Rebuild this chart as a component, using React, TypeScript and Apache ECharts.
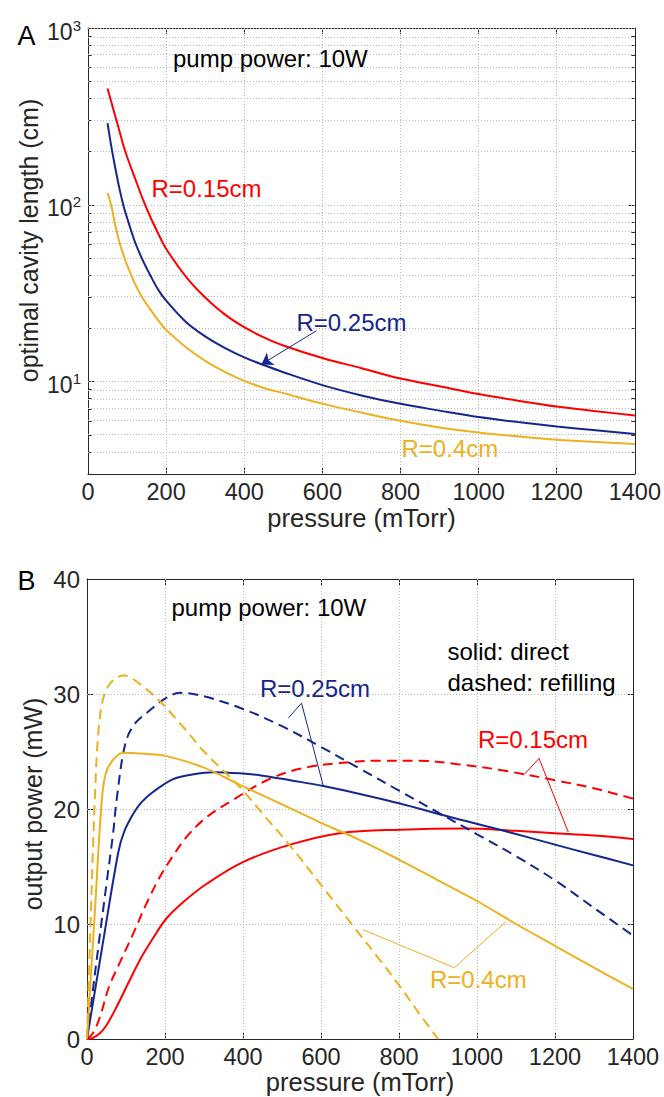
import React, { useEffect, useRef } from 'react';
import * as echarts from 'echarts';

const FONT = "'Liberation Sans', Arial, Helvetica, sans-serif";
const AX = '#262626';
const GRID_C = '#b8b8b8';
const RED = '#FF0000';
const BLUE = '#15268C';
const YELLOW = '#EDB120';

// ---------- Panel A: optimal cavity length (cm) vs pressure (mTorr), log y ----------
const P_A = [50, 60, 70, 80, 90, 100, 120, 140, 160, 180, 200, 250, 300, 350, 400, 450, 500, 600, 700, 800, 900, 1000, 1100, 1200, 1300, 1400];
const RED_A = [455, 379, 316, 264, 219, 187, 142, 108, 85, 68.6, 56.4, 39.4, 29.9, 24.0, 20.3, 17.8, 16.0, 13.6, 11.9, 10.4, 9.4, 8.5, 7.8, 7.22, 6.8, 6.43];
const BLUE_A = [290, 212, 161, 125, 100.5, 84.4, 61.8, 48.6, 39.7, 33.0, 28.7, 21.8, 18.0, 15.5, 13.7, 12.4, 11.3, 9.55, 8.35, 7.48, 6.85, 6.3, 5.9, 5.57, 5.3, 5.05];
const YELLOW_A = [117, 98, 76, 62, 52.6, 45.5, 35.8, 29.6, 25.5, 22.2, 19.6, 15.7, 13.1, 11.35, 10.1, 9.2, 8.6, 7.5, 6.68, 6.0, 5.5, 5.15, 4.9, 4.69, 4.55, 4.43];
const A_MAJOR = [10, 100, 1000];
const A_MINOR = [4, 5, 6, 7, 8, 9, 20, 30, 40, 50, 60, 70, 80, 90, 200, 300, 400, 500, 600, 700, 800, 900];
const A_YMIN = 3;
const A_YMAX = 1000;
const ARROW_P = [585, 444];
const ARROW_V = [19.4, 12.5];

// ---------- Panel B: output power (mW) vs pressure (mTorr) ----------
const RS_P = [0, 15, 33, 50, 76, 105, 136, 170, 204, 250, 307, 401, 521, 649, 803, 973, 1100, 1200, 1300, 1400];
const RS_V = [0, 0.1, 0.5, 1.2, 2.8, 4.8, 6.9, 8.8, 10.5, 12.0, 13.5, 15.4, 16.9, 17.9, 18.2, 18.3, 18.1, 17.9, 17.7, 17.4];
const RD_P = [0, 15, 33, 56, 85, 119, 150, 187, 220, 256, 307, 375, 461, 546, 649, 750, 850, 950, 1059, 1200, 1300, 1400];
const RD_V = [0, 0.5, 1.9, 4.5, 6.7, 9.2, 11.6, 14.1, 15.9, 17.6, 19.3, 20.8, 22.5, 23.5, 24.0, 24.2, 24.2, 23.9, 23.4, 22.5, 21.8, 20.9];
const BS_P = [0, 40, 80, 95, 119, 140, 170, 221, 270, 324, 392, 450, 521, 606, 700, 800, 931, 1059, 1200, 1300, 1400];
const BS_V = [0, 8.2, 16.2, 18.0, 19.6, 20.6, 21.5, 22.6, 23.0, 23.2, 23.1, 22.9, 22.5, 22.0, 21.3, 20.5, 19.3, 18.2, 16.9, 16.0, 15.1];
const BD_P = [0, 16, 29, 50, 67, 76, 97, 120, 162, 200, 238, 300, 400, 500, 600, 700, 800, 900, 1000, 1100, 1200, 1300, 1400];
const BD_V = [0, 4.5, 8, 13.5, 17.9, 20.8, 25.5, 27.3, 28.6, 29.6, 30.1, 29.8, 28.7, 27.2, 25.4, 23.5, 21.6, 19.7, 17.8, 15.9, 13.8, 11.4, 9.0];
const YS_P = [0, 20, 38, 49, 70, 93, 150, 204, 300, 392, 500, 600, 700, 800, 900, 1000, 1100, 1200, 1300, 1400];
const YS_V = [0, 11, 20.8, 23.2, 24.4, 24.9, 24.8, 24.6, 23.6, 22.1, 20.4, 18.8, 17.3, 15.6, 13.8, 12.0, 10.0, 8.1, 6.2, 4.35];
const YD_P = [0, 10, 20, 30, 45, 70, 97, 130, 183, 250, 300, 392, 450, 521, 600, 683, 750, 803, 850, 900];
const YD_V = [0, 11, 20.8, 27, 30, 31.3, 31.6, 31, 29.5, 27, 25, 21.9, 19.6, 16.8, 13.4, 9.8, 6.9, 4.55, 2.3, 0];
// annotation leader lines (data coordinates)
const L25_P = [516, 550, 606];
const L25_V = [27.9, 29.2, 22.0];
const L15_P = [1121, 1159, 1234];
const L15_V = [23.0, 24.4, 18.0];
const L04_P = [708, 942, 1074];
const L04_V = [9.5, 6.2, 10.2];

const X_TICKS = [200, 400, 600, 800, 1000, 1200];

const zip = (xs: number[], ys: number[]) => xs.map((x, i) => [x, ys[i]]);
const zipLog = (xs: number[], ys: number[]) => xs.map((x, i) => [x, Math.log10(ys[i])]);

function xAxisDef(gi: number, pos: 'top' | 'bottom', labels: boolean) {
  return {
    type: 'value', gridIndex: gi, position: pos, min: 0, max: 1400, interval: 200,
    axisLine: { show: true, onZero: false, lineStyle: { color: AX, width: 1 } },
    axisTick: { show: true, inside: true, length: 6, lineStyle: { color: AX, width: 1 } },
    axisLabel: {
      show: labels, fontSize: 23.5, lineHeight: 18, fontFamily: FONT, color: AX, margin: 9,
      formatter: (v: number) => String(v),
    },
    splitLine: { show: false },
  };
}

function logAxis(pos: 'left' | 'right', values: number[], len: number, line: boolean, labels: boolean) {
  const lv = values.map((v) => Math.log10(v));
  return {
    type: 'value', gridIndex: 0, position: pos, min: Math.log10(A_YMIN), max: Math.log10(A_YMAX),
    axisLine: { show: line, onZero: false, lineStyle: { color: AX, width: 1 } },
    axisTick: { show: true, inside: true, length: len, customValues: lv, lineStyle: { color: AX, width: 1 } },
    axisLabel: labels
      ? {
          show: true, customValues: lv, margin: 7, padding: [7, 0, 0, 0],
          formatter: (v: number) => `{b|10}{s|${Math.round(v)}}`,
          rich: {
            b: { fontSize: 23, fontFamily: FONT, color: AX, lineHeight: 28 },
            s: { fontSize: 15, fontFamily: FONT, color: AX, lineHeight: 15, verticalAlign: 'top' },
          },
        }
      : { show: false },
    splitLine: { show: false },
  };
}

function linAxis(pos: 'left' | 'right', labels: boolean) {
  return {
    type: 'value', gridIndex: 1, position: pos, min: 0, max: 40, interval: 10,
    axisLine: { show: true, onZero: false, lineStyle: { color: AX, width: 1 } },
    axisTick: { show: true, inside: true, length: 6, lineStyle: { color: AX, width: 1 } },
    axisLabel: { show: labels, fontSize: 24, fontFamily: FONT, color: AX, margin: 7 },
    splitLine: { show: false },
  };
}

const dotted = { type: [1, 2], color: GRID_C, width: 1 };

function curve(name: string, data: number[][], color: string, xi: number, yi: number, dashed = false, extra: any = {}) {
  return {
    name, type: 'line', xAxisIndex: xi, yAxisIndex: yi, data,
    symbol: 'none', smooth: 0.35, silent: true, z: 3,
    lineStyle: { color, width: 2, type: dashed ? [10, 6] : 'solid' },
    ...extra,
  };
}

function leader(name: string, xs: number[], ys: number[], color: string) {
  return {
    name, type: 'line', xAxisIndex: 2, yAxisIndex: 4, data: zip(xs, ys),
    symbol: 'none', smooth: false, silent: true, z: 4,
    lineStyle: { color, width: 1, type: 'solid' },
  };
}

function txt(text: string, x: number, y: number, color: string, size = 24, align = 'left', rotation = 0) {
  return {
    type: 'text', x, y, rotation, silent: true, z: 10,
    style: {
      text, fill: color, fontSize: size, fontFamily: FONT, lineHeight: size * 0.8,
      align, textAlign: align, verticalAlign: 'middle', textVerticalAlign: 'middle',
    },
  };
}

export default function App() {
  const ref = useRef<HTMLDivElement>(null);
  useEffect(() => {
    const chart = echarts.init(ref.current!, null, { renderer: 'svg' });
    const gridLinesA = [
      ...[...A_MAJOR, ...A_MINOR].map((v) => ({ yAxis: Math.log10(v) })),
      ...X_TICKS.map((x) => ({ xAxis: x })),
    ];
    const gridLinesB = [
      ...[10, 20, 30].map((v) => ({ yAxis: v })),
      ...X_TICKS.map((x) => ({ xAxis: x })),
    ];
    const option: any = {
      animation: false,
      backgroundColor: '#ffffff',
      grid: [
        { left: 88, top: 28, width: 547, height: 446 },
        { left: 87, top: 579, width: 546, height: 460 },
      ],
      xAxis: [xAxisDef(0, 'bottom', true), xAxisDef(0, 'top', false), xAxisDef(1, 'bottom', true), xAxisDef(1, 'top', false)],
      yAxis: [
        logAxis('left', A_MAJOR, 6, true, true),
        logAxis('left', A_MINOR, 3.5, false, false),
        logAxis('right', A_MAJOR, 6, true, false),
        logAxis('right', A_MINOR, 3.5, false, false),
        linAxis('left', true),
        linAxis('right', false),
      ],
      series: [
        {
          name: 'gridA', type: 'line', xAxisIndex: 0, yAxisIndex: 0, data: [], silent: true, z: 1,
          markLine: { silent: true, z: 1, symbol: ['none', 'none'], label: { show: false }, lineStyle: dotted, emphasis: { disabled: true }, data: gridLinesA },
        },
        {
          name: 'gridB', type: 'line', xAxisIndex: 2, yAxisIndex: 4, data: [], silent: true, z: 1,
          markLine: { silent: true, z: 1, symbol: ['none', 'none'], label: { show: false }, lineStyle: dotted, emphasis: { disabled: true }, data: gridLinesB },
        },
        curve('R=0.15cm', zipLog(P_A, RED_A), RED, 0, 0),
        curve('R=0.25cm', zipLog(P_A, BLUE_A), BLUE, 0, 0, false, {
          markLine: {
            silent: true, symbol: ['none', 'arrow'], symbolSize: 11, label: { show: false },
            lineStyle: { color: BLUE, width: 1, type: 'solid' }, emphasis: { disabled: true },
            data: [[
              { coord: [ARROW_P[0], Math.log10(ARROW_V[0])] },
              { coord: [ARROW_P[1], Math.log10(ARROW_V[1])] },
            ]],
          },
        }),
        curve('R=0.4cm', zipLog(P_A, YELLOW_A), YELLOW, 0, 0),
        curve('direct R=0.15', zip(RS_P, RS_V), RED, 2, 4),
        curve('refilling R=0.15', zip(RD_P, RD_V), RED, 2, 4, true),
        curve('direct R=0.25', zip(BS_P, BS_V), BLUE, 2, 4),
        curve('refilling R=0.25', zip(BD_P, BD_V), BLUE, 2, 4, true),
        curve('direct R=0.4', zip(YS_P, YS_V), YELLOW, 2, 4),
        curve('refilling R=0.4', zip(YD_P, YD_V), YELLOW, 2, 4, true),
        leader('lead0.25', L25_P, L25_V, BLUE),
        leader('lead0.15', L15_P, L15_V, RED),
        leader('lead0.4', L04_P, L04_V, YELLOW),
      ],
      graphic: [
        txt('A', 26.5, 36, '#000', 27, 'center'),
        txt('B', 26.5, 581, '#000', 27, 'center'),
        txt('pump power: 10W', 173, 58.5, '#000'),
        txt('R=0.15cm', 151.5, 188.5, RED),
        txt('R=0.25cm', 296.5, 322, BLUE),
        txt('R=0.4cm', 401.5, 448.5, YELLOW),
        txt('pressure (mTorr)', 361.5, 518, AX, 25.5, 'center'),
        txt('optimal cavity length (cm)', 28.5, 240.5, AX, 25, 'center', Math.PI / 2),
        txt('pump power: 10W', 171.5, 607.5, '#000'),
        txt('solid: direct', 447.5, 651.5, '#000'),
        txt('dashed: refilling', 447.5, 682, '#000'),
        txt('R=0.25cm', 260, 688, BLUE),
        txt('R=0.15cm', 478, 739, RED),
        txt('R=0.4cm', 430, 979, YELLOW),
        txt('pressure (mTorr)', 360, 1082, AX, 25.5, 'center'),
        txt('output power (mW)', 33, 804, AX, 25, 'center', Math.PI / 2),
      ],
    };
    chart.setOption(option);
    return () => chart.dispose();
  }, []);
  return (
    <div
      ref={ref}
      style={{ position: 'absolute', left: 0, top: 0, width: 664, height: 1097, background: '#fff' }}
    />
  );
}
